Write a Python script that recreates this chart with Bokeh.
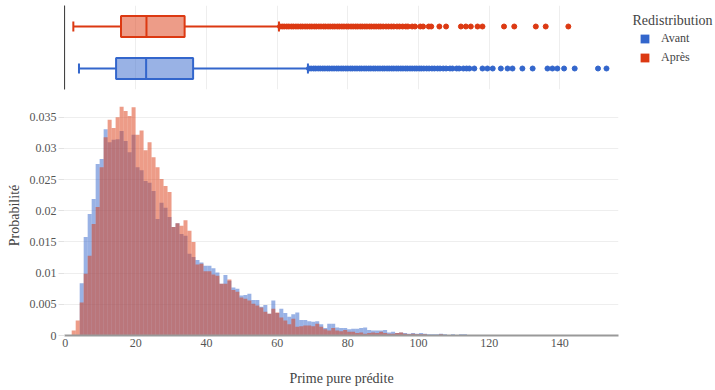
import math
from bokeh.plotting import figure
from bokeh.models import (Range1d, FactorRange, FixedTicker, Legend, LegendItem,
                          NumeralTickFormatter, Label)
from bokeh.layouts import column, row
from bokeh.embed import file_html
from bokeh.resources import INLINE

FONT = "Liberation Serif"
BLUE = "#3366CC"
RED = "#DC3912"
TXT = "#444444"

# ---------------- data ----------------
groups = ["Avant", "Après"]
box_min = [3.9, 2.3]
box_q1 = [14.4, 15.8]
box_median = [22.9, 23.0]
box_q3 = [36.2, 33.8]
box_upper = [68.7, 60.5]
box_colors = [BLUE, RED]

outliers_avant = [69.0, 69.6, 70.3, 70.9, 71.6, 72.2, 72.9, 73.5, 74.2, 74.8, 75.5, 76.1,
                  76.8, 77.4, 78.1, 78.7, 79.4, 80.0, 80.7, 81.3, 82.0, 82.6, 83.3, 83.9,
                  84.6, 85.2, 85.9, 86.5, 87.2, 87.8, 88.5, 89.1, 89.8, 90.4, 91.1, 91.7,
                  92.4, 93.0, 93.7, 94.3, 95.0, 95.6, 96.3, 96.9, 97.6, 98.2, 98.9, 99.5,
                  100.2, 100.8, 101.5, 102.3, 103.0, 103.8, 104.5, 105.4, 106.1, 107.0,
                  107.8, 108.9, 109.6, 110.8, 111.5, 112.7, 113.6, 114.4, 115.8, 118.1,
                  119.5, 121.0, 123.3, 125.2, 126.6, 129.4, 132.3, 136.5, 137.9, 139.3,
                  141.2, 144.2, 150.8, 153.2]
outliers_apres = [60.8, 61.4, 62.0, 62.7, 63.3, 64.0, 64.6, 65.3, 65.9, 66.6, 67.2, 67.9,
                  68.5, 69.2, 69.8, 70.5, 71.1, 71.8, 72.4, 73.1, 73.7, 74.4, 75.0, 75.7,
                  76.3, 77.0, 77.6, 78.3, 78.9, 79.6, 80.2, 80.9, 81.5, 82.2, 82.8, 83.5,
                  84.1, 84.8, 85.4, 86.1, 86.7, 87.4, 88.0, 88.7, 89.3, 90.0, 90.8, 91.5,
                  92.3, 93.0, 93.9, 94.6, 95.5, 96.4, 97.0, 98.2, 99.0, 100.5, 101.3, 102.9,
                  103.6, 105.9, 107.8, 112.0, 113.4, 114.8, 116.7, 118.1, 124.2, 127.1,
                  133.2, 136.0, 142.4]

bin_start = 1.84
bin_width = 1.13
prob_avant = [
    0, 0, 0.0084, 0.0158, 0.0195, 0.0219, 0.0275, 0.0283, 0.0331, 0.0310,
    0.0314, 0.0315, 0.0328, 0.0312, 0.0294, 0.0322, 0.0270, 0.0265, 0.0248, 0.0245,
    0.0232, 0.0187, 0.0213, 0.0205, 0.0190, 0.0174, 0.0180, 0.0163, 0.0160, 0.0131,
    0.0126, 0.0121, 0.0117, 0.0112, 0.0112, 0.0108, 0.0101, 0.0083, 0.0097, 0.0088,
    0.0077, 0.0075, 0.0064, 0.0065, 0.0067, 0.0057, 0.0057, 0.0046, 0.0049, 0.0035,
    0.0056, 0.0036, 0.0043, 0.0036, 0.0030, 0.0034, 0.0037, 0.0025, 0.0025, 0.0023,
    0.0022, 0.0023, 0.0018, 0.0012, 0.0019, 0.0019, 0.0013, 0.0012, 0.0012, 0.0010,
    0.0011, 0.0011, 0.0012, 0.0013, 0.0009, 0.0008, 0.0008, 0.0008, 0.0009, 0.0005,
    0.0006, 0.0004, 0.0005, 0.0004, 0.0003, 0.0004, 0.0003, 0.0004, 0.0003, 0.0002,
    0.0002, 0.0002, 0.0003, 0.0002, 0.0001, 0.0002, 0.0001, 0.0002, 0.0002, 0.0001,
    0.0001, 0.0001, 0.0001, 0, 0.0001, 0.0001, 0, 0.0001, 0, 0.0001,
    0, 0.0001, 0, 0, 0.0001, 0, 0, 0, 0.0001, 0.0001,
    0.0001, 0.0001, 0, 0.0001, 0, 0, 0.0001, 0, 0, 0,
    0, 0, 0.0001, 0, 0.0001]
prob_apres = [
    0.0008, 0.0024, 0.0053, 0.0099, 0.0128, 0.0179, 0.0206, 0.0270, 0.0318, 0.0346,
    0.0333, 0.0350, 0.0367, 0.0360, 0.0352, 0.0366, 0.0322, 0.0329, 0.0297, 0.0310,
    0.0286, 0.0270, 0.0251, 0.0240, 0.0230, 0.0174, 0.0180, 0.0176, 0.0185, 0.0168,
    0.0150, 0.0114, 0.0115, 0.0103, 0.0103, 0.0098, 0.0096, 0.0083, 0.0083, 0.0090,
    0.0073, 0.0070, 0.0061, 0.0059, 0.0056, 0.0051, 0.0048, 0.0045, 0.0038, 0.0035,
    0.0043, 0.0037, 0.0029, 0.0024, 0.0018, 0.0027, 0.0014, 0.0015, 0.0016, 0.0016,
    0.0015, 0.0019, 0.0014, 0.0010, 0.0008, 0.0012, 0.0008, 0.0007, 0.0009, 0.0006,
    0.0006, 0.0004, 0.0005, 0.0003, 0.0004, 0.0005, 0.0004, 0.0006, 0.0004, 0.0003,
    0.0003, 0.0004, 0.0005, 0.0003, 0.0002, 0.0003, 0.0002, 0.0002, 0.0002, 0.0001,
    0.0001, 0.0001, 0.0002, 0.0001, 0.0001, 0, 0.0001, 0.0001, 0.0001, 0,
    0.0001, 0, 0.0001, 0, 0, 0, 0, 0, 0.0001, 0,
    0, 0.0001, 0, 0, 0, 0, 0, 0.0001, 0.0001, 0,
    0, 0, 0, 0, 0.0001, 0, 0, 0, 0, 0,
    0, 0, 0, 0, 0]

x_ticks = [0, 20, 40, 60, 80, 100, 120, 140]
y_ticks = [0, 0.005, 0.01, 0.015, 0.02, 0.025, 0.03, 0.035]

x_title = "Prime pure prédite"
y_title = "Probabilité"
legend_title = "Redistribution"

# ---------------- figures ----------------
x_range = Range1d(-0.2, 156.6)

top = figure(frame_width=554, frame_height=84, x_range=x_range, y_range=FactorRange(*groups),
             output_backend="svg", toolbar_location=None,
             min_border_left=64, min_border_right=0, min_border_top=5, min_border_bottom=6)
top.outline_line_color = None
top.xaxis.visible = False
top.xgrid.ticker = FixedTicker(ticks=x_ticks)
top.xgrid.grid_line_color = "#eeeeee"
top.ygrid.visible = False
ya = top.yaxis[0]
ya.ticker = FixedTicker(ticks=[])
ya.axis_line_color = TXT
ya.axis_line_width = 1
ya.major_tick_line_color = None
ya.minor_tick_line_color = None
ya.major_tick_out = 0

# whiskers
top.segment(x0=box_min, y0=groups, x1=box_q1, y1=groups, line_color=box_colors, line_width=2)
top.segment(x0=box_q3, y0=groups, x1=box_upper, y1=groups, line_color=box_colors, line_width=2)
top.scatter(x=box_min, y=groups, marker="dash", angle=math.pi / 2, size=10,
            line_color=box_colors, line_width=2)
top.scatter(x=box_upper, y=groups, marker="dash", angle=math.pi / 2, size=10,
            line_color=box_colors, line_width=2)
# boxes
top.hbar(y=groups, left=box_q1, right=box_q3, height=0.5, fill_color=box_colors,
         fill_alpha=0.5, line_color=box_colors, line_width=2)
top.scatter(x=box_median, y=groups, marker="dash", angle=math.pi / 2, size=21,
            line_color=box_colors, line_width=2)
# outliers
top.scatter(x=outliers_avant, y=[groups[0]] * len(outliers_avant), size=5,
            fill_color=BLUE, line_color=BLUE)
top.scatter(x=outliers_apres, y=[groups[1]] * len(outliers_apres), size=5,
            fill_color=RED, line_color=RED)

# ---------------- legend panel ----------------
leg = figure(frame_width=97, frame_height=95, x_range=Range1d(0, 1), y_range=Range1d(0, 1),
             output_backend="svg", toolbar_location=None,
             min_border_left=0, min_border_right=0, min_border_top=0, min_border_bottom=0)
leg.axis.visible = False
leg.grid.visible = False
leg.outline_line_color = None
rb = leg.quad(left=[0], right=[0], bottom=[0], top=[0], fill_color=BLUE, line_color=None)
rr = leg.quad(left=[0], right=[0], bottom=[0], top=[0], fill_color=RED, line_color=None)
legend = Legend(items=[LegendItem(label=groups[0], renderers=[rb]),
                       LegendItem(label=groups[1], renderers=[rr])],
                location=(21, 30), margin=0, padding=10,
                glyph_width=11, glyph_height=11, label_height=16, spacing=3,
                label_standoff=11, label_text_font=FONT, label_text_font_size="12px",
                label_text_color=TXT, border_line_color=None, background_fill_alpha=0)
leg.add_layout(legend)
leg.add_layout(Label(x=14, y=88, x_units="screen", y_units="screen", text=legend_title,
                     text_font=FONT, text_font_size="14px", text_color=TXT,
                     text_baseline="top"))

# ---------------- histogram ----------------
bot = figure(frame_width=554, frame_height=240, x_range=x_range, y_range=Range1d(0, 0.0385),
             output_backend="svg", toolbar_location=None,
             min_border_left=64, min_border_right=97, min_border_top=0, min_border_bottom=54)
bot.outline_line_color = None

n = len(prob_avant)
lefts = [bin_start + bin_width * i for i in range(n)]
rights = [l + bin_width for l in lefts]
bot.quad(left=lefts, right=rights, bottom=0, top=prob_avant, fill_color=BLUE,
         fill_alpha=0.5, line_color=None)
bot.quad(left=lefts, right=rights, bottom=0, top=prob_apres, fill_color=RED,
         fill_alpha=0.5, line_color=None)

bot.xgrid.visible = False
bot.ygrid.ticker = FixedTicker(ticks=y_ticks)
bot.ygrid.grid_line_color = "#eeeeee"

xa = bot.xaxis[0]
xa.ticker = FixedTicker(ticks=x_ticks)
xa.axis_line_color = "#999999"
xa.axis_line_width = 2
xa.major_tick_line_color = None
xa.minor_tick_line_color = None
xa.major_tick_out = 0
xa.major_tick_in = 0
xa.major_label_standoff = 3
xa.major_label_text_font = FONT
xa.major_label_text_font_size = "12px"
xa.major_label_text_color = "#555555"
xa.axis_label = x_title
xa.axis_label_text_font = FONT
xa.axis_label_text_font_size = "14px"
xa.axis_label_text_font_style = "normal"
xa.axis_label_text_color = TXT
xa.axis_label_standoff = 21

yb = bot.yaxis[0]
yb.ticker = FixedTicker(ticks=y_ticks)
yb.formatter = NumeralTickFormatter(format="0.[000]")
yb.axis_line_color = None
yb.major_tick_line_color = "#e2e2e2"
yb.minor_tick_line_color = None
yb.major_tick_out = 6
yb.major_tick_in = 0
yb.major_label_standoff = 2
yb.major_label_text_font = FONT
yb.major_label_text_font_size = "12px"
yb.major_label_text_color = "#555555"
yb.axis_label = y_title
yb.axis_label_text_font = FONT
yb.axis_label_text_font_size = "14px"
yb.axis_label_text_font_style = "normal"
yb.axis_label_text_color = TXT
yb.axis_label_standoff = 5

layout = column(row(top, leg, spacing=0), bot, spacing=0)
open("out.html", "w").write(file_html(layout, INLINE))
